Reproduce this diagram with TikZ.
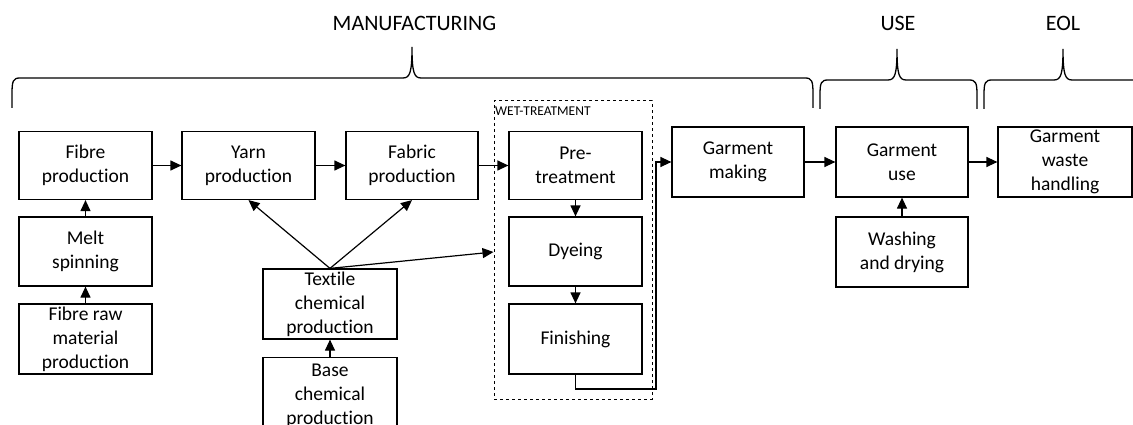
\documentclass[tikz,border=0pt]{standalone}
\usepackage{fontspec}
\setmainfont{Carlito}[Ligatures=NoCommon]
\usetikzlibrary{arrows.meta}
\begin{document}
\begin{tikzpicture}[x=1pt,y=-1pt,
  box/.style={draw,line width=1.2pt,inner sep=0pt,align=center,
    font=\fontsize{19.5}{24}\selectfont,minimum width=133pt,minimum height=68pt},
  arr/.style={line width=1.2pt,-{Triangle[length=11pt,width=10pt]}},
  brace/.style={line width=1.3pt},
  lab/.style={font=\fontsize{22}{24}\selectfont,anchor=base}]
\useasboundingbox (0,0) rectangle (1133,425);
\clip (0,0) rectangle (1133,425);
% wet treatment group
\node[draw,dashed,line width=1pt,minimum width=158pt,minimum height=298pt,inner sep=0pt] (wet) at (573,250) {};
\node[anchor=north west,inner sep=0pt,font=\fontsize{13.5}{14}\selectfont] (wetlab) at (495,107) {WET-TREATMENT};
% boxes
\node[box] (fibre) at (85.5,165.5) {Fibre\\production};
\node[box] (yarn) at (248.5,165.5) {Yarn\\production};
\node[box,minimum width=132pt] (fabric) at (412,165.5) {Fabric\\production};
\node[box] (pre) at (575.5,165.5) {Pre-\\treatment};
\node[box,minimum height=69pt] (melt) at (85.5,251.5) {Melt\\spinning};
\node[box,minimum height=70pt] (raw) at (85.5,339) {Fibre raw\\material\\production};
\node[box,minimum width=134pt,minimum height=70pt] (textile) at (330,304) {Textile\\chemical\\production};
\node[box,minimum width=134pt,minimum height=76pt,anchor=north] (base) at (330,357) {Base\\chemical\\production};
\node[box,minimum height=69pt] (dye) at (575.5,251.5) {Dyeing};
\node[box,minimum height=70pt] (fin) at (575.5,339) {Finishing};
\node[box,minimum width=132pt,minimum height=70pt] (gmake) at (738,162) {Garment\\making};
\node[box,minimum width=132pt,minimum height=70pt] (guse) at (902,162) {Garment\\use};
\node[box,minimum width=134pt,minimum height=70pt] (gwaste) at (1065,162) {Garment\\waste\\handling};
\node[box,minimum width=132pt,minimum height=70pt] (wash) at (902,252) {Washing\\and drying};
% arrows
\draw[arr] (fibre.east) -- (yarn.west);
\draw[arr] (yarn.east) -- (fabric.west);
\draw[arr] (fabric.east) -- (pre.west);
\draw[arr] (melt) -- (fibre);
\draw[arr] (raw) -- (melt);
\draw[arr] (base) -- (textile);
\draw[arr] (textile.north) -- (yarn.south);
\draw[arr] (textile.north) -- (fabric.south);
\draw[arr] (textile.north) -- ([yshift=-2pt]wet.west);
\draw[arr] (pre) -- (dye);
\draw[arr] (dye) -- (fin);
\coordinate (c1) at (656,389);
\draw[arr] (fin.south) |- (c1) |- (gmake.west);
\draw[arr] (gmake.east) -- (guse.west);
\draw[arr] (guse.east) -- (gwaste.west);
\draw[arr] (wash) -- (guse);
% braces
\draw[brace] (12,108) -- (12,94) .. controls (12,81) and (13,78) .. (20,78) -- (403,78)
  .. controls (410,78) and (412,72) .. (412,47) .. controls (412,72) and (414,78) .. (421,78)
  -- (805,78) .. controls (812,78) and (813,81) .. (813,94) -- (813,108);
\draw[brace] (820,109) -- (820,95) .. controls (820,83) and (821,80) .. (828,80) -- (888,80)
  .. controls (895,80) and (897,74) .. (897,49) .. controls (897,74) and (899,80) .. (906,80)
  -- (969,80) .. controls (976,80) and (977,83) .. (977,95) -- (977,109);
\draw[brace] (984,109) -- (984,95) .. controls (984,83) and (985,80) .. (992,80) -- (1054,80)
  .. controls (1061,80) and (1063,74) .. (1063,49) .. controls (1063,74) and (1065,80) .. (1072,80)
  -- (1134,80) .. controls (1141,80) and (1142,83) .. (1142,95) -- (1142,109);
% labels
\node[lab] (manu) at (414.5,31) {MANUFACTURING};
\node[lab] (use) at (898,31) {USE};
\node[lab] (eol) at (1063,31) {EOL};
\end{tikzpicture}
\end{document}
